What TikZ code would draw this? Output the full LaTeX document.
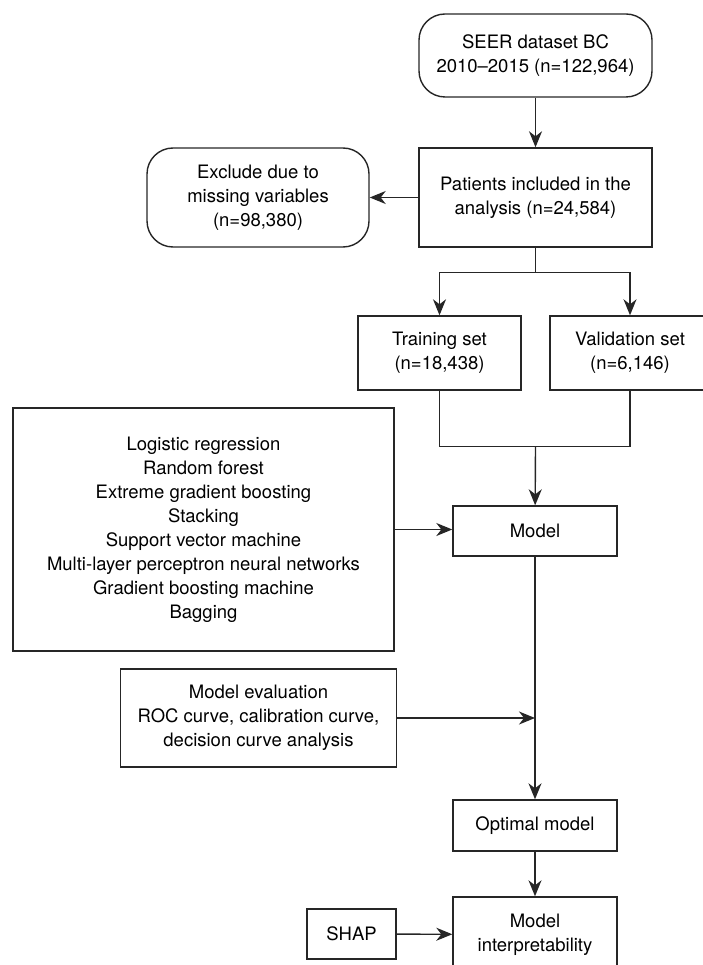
\documentclass[tikz,border=0pt]{standalone}
\usepackage{fontspec}
\setmainfont{TeX Gyre Heros}
\usetikzlibrary{positioning, arrows.meta, calc}

\begin{document}
\begin{tikzpicture}[x=1pt, y=-1pt, line width=1.4pt,
	box/.style={draw=black!85, align=center, inner sep=0pt, font=\fontsize{18.5}{24}\selectfont},
	rbox/.style={box, rounded corners=26pt},
	arr/.style={draw=black!85, -{Stealth[length=16pt,width=13pt,inset=5pt]}}]
			\useasboundingbox (0,0) rectangle (703,965);
			\clip (0,0) rectangle (703,965);
			
			\node[rbox, minimum width=233pt, minimum height=83pt](seer) at (535.5,55.5) {SEER dataset BC\\2010--2015 (n=122,964)};
			\node[box, minimum width=233pt, minimum height=99pt](pat) at (535.5,197.5) {Patients included in the\\analysis (n=24,584)};
			\node[rbox, minimum width=222pt, minimum height=99pt](excl) at (258,197.5) {Exclude due to\\missing variables\\(n=98,380)};
			
			\node[box, minimum width=163pt, minimum height=74pt](train) at (439.5,353) {Training set\\(n=18,438)};
			\node[box, minimum width=160pt, minimum height=74pt](valid) at (630,353) {Validation set\\(n=6,146)};
			
			\node[box, minimum width=381pt, minimum height=243pt](algo) at (203.5,529.5) {Logistic regression\\Random forest\\Extreme gradient boosting\\Stacking\\Support vector machine\\Multi-layer perceptron neural networks\\Gradient boosting machine\\Bagging};
			\node[box, minimum width=164pt, minimum height=50pt](model) at (535,531) {Model};
			
			\node[box, minimum width=276pt, minimum height=98pt](eval) at (258.5,718) {Model evaluation\\ROC curve, calibration curve,\\decision curve analysis};
			\node[box, minimum width=164pt, minimum height=51pt](opt) at (535,825.5) {Optimal model};
			
			\node[box, minimum width=164pt, minimum height=75pt](interp) at (535,934.5) {Model\\interpretability};
			\node[box, minimum width=89pt, minimum height=50pt](shap) at (351.5,934) {SHAP};
			
			%% split and join points of the two sets
			\coordinate (split) at ($(pat.south)+(0,25)$);
			\coordinate (join) at ($(pat.south)+(0,199)$);
			\coordinate (evalin) at (eval.east -| model.south);
			
			\draw[arr] (seer) -- (pat);
			\draw[arr] (pat.west) -- (excl.east);
			\draw[draw=black!85] (pat.south) -- (split);
			\draw[arr] (split) -| (train.north);
			\draw[arr] (split) -| (valid.north);
			\draw[draw=black!85] (train.south) |- (join);
			\draw[draw=black!85] (valid.south) |- (join);
			\draw[arr] (join) -- (model);
			\draw[arr] (algo.east) -- (algo.east -| model.west);
			\draw[arr] (model) -- (opt);
			\draw[arr] (eval.east) -- (evalin);
			\draw[arr] (opt) -- (interp);
			\draw[arr] (shap) -- (interp);
			
\end{tikzpicture}
\end{document}
